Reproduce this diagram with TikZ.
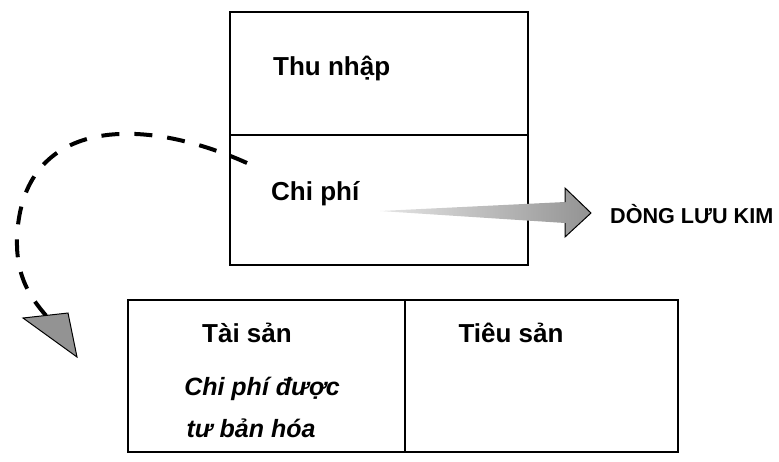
\documentclass[tikz,border=0pt]{standalone}
\usepackage{fontspec}
\setmainfont{Liberation Sans}
\usetikzlibrary{calc}
\begin{document}
\begin{tikzpicture}[x=1pt,y=-1pt,
  box/.style={draw,line width=1.6pt,inner sep=0pt,outer sep=0pt},
  lbl/.style={inner sep=0pt,font=\fontsize{26}{30}\selectfont\bfseries},
  ilbl/.style={inner sep=0pt,font=\fontsize{25}{30}\selectfont\bfseries\itshape}]
\useasboundingbox (0,0) rectangle (779,461);
% top box
\node[box,minimum width=298pt,minimum height=123pt] (thu) at (379,73.5) {};
\node[box,minimum width=298pt,minimum height=130pt] (chi) at (379,200) {};
% bottom box
\node[box,minimum width=277pt,minimum height=152pt] (tai) at (266.5,376) {};
\node[box,minimum width=273pt,minimum height=152pt] (tieu) at (541.5,376) {};
% labels
\node[lbl,anchor=west] (thut) at (273,68) {Thu nhập};
\node[lbl,anchor=west] (chit) at (271,194) {Chi phí};
\node[lbl] (tait) at (247,333) {Tài sản};
\node[lbl] (tieut) at (511,333) {Tiêu sản};
\node[ilbl] (cp1) at (262,389) {Chi phí được};
\node[ilbl] (cp2) at (251,428) {tư bản hóa};
\node[lbl,anchor=west,font=\fontsize{21.6}{26}\selectfont\bfseries] (dong) at (610,214) {DÒNG LƯU KIM};
% big arrow
\coordinate (atail) at (380,211);
\coordinate (atip) at (591,213);
\shade[left color=gray!20,right color=gray!85]
  (atail) -- (565,202) -- (565,188) -- (atip) -- (565,237) -- (565,223) -- cycle;
\draw[line width=1pt] (565,202) -- (565,188) -- (atip) -- (565,237) -- (565,223);
% dashed curve
\coordinate (cstart) at (247,163);
\coordinate (cend) at (48,318);
\draw[line width=4pt,dash pattern=on 18pt off 15pt]
  (cstart) .. controls (140,115) and (30,120) .. (18,225)
  .. controls (12,277) and (33,300) .. (cend);
\filldraw[fill=gray!85,line width=1pt] (23,318) -- (68,313) -- (77,357) -- cycle;
\end{tikzpicture}
\end{document}
